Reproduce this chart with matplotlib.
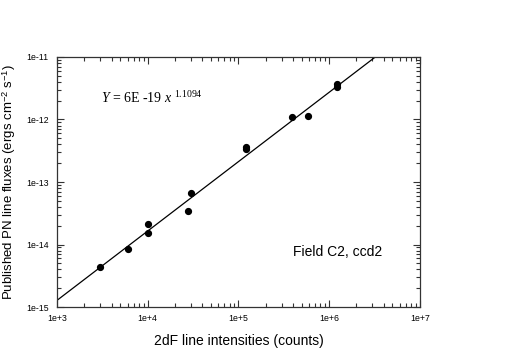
import matplotlib.pyplot as plt
import numpy as np
from matplotlib.ticker import LogLocator, NullFormatter, FixedLocator

# measured points (2dF counts vs published flux)
counts = [2980, 6100, 10000, 10000, 28000, 30200, 121000, 122000,
          392000, 587000, 1210000, 1220000]
flux = [4.4e-15, 8.5e-15, 2.15e-14, 1.55e-14, 3.5e-14, 6.7e-14, 3.35e-13, 3.6e-13,
        1.08e-12, 1.12e-12, 3.3e-12, 3.65e-12]

# power-law fit Y = a x^b
fit_a = 6e-19
fit_b = 1.1094

x_ticks = [1e3, 1e4, 1e5, 1e6, 1e7]
x_ticklabels = ['1e+3', '1e+4', '1e+5', '1e+6', '1e+7']
y_ticks = [1e-15, 1e-14, 1e-13, 1e-12, 1e-11]
y_ticklabels = ['1e-15', '1e-14', '1e-13', '1e-12', '1e-11']

plt.rcParams['font.family'] = ['Liberation Sans', 'DejaVu Sans']
plt.rcParams['mathtext.fontset'] = 'custom'
plt.rcParams['mathtext.rm'] = 'Liberation Sans'
plt.rcParams['mathtext.it'] = 'Liberation Serif:italic'
plt.rcParams['mathtext.sf'] = 'Liberation Serif'

fig = plt.figure(figsize=(5.07, 3.49), dpi=100)
ax = fig.add_axes([0.1124, 0.1203, 0.7156, 0.7164])

xf = np.logspace(3, 7, 200)
ax.plot(xf, fit_a * xf ** fit_b, color='black', lw=0.9)
ax.plot(counts, flux, 'o', color='black', ms=4.2, mec='black')

ax.set_xscale('log')
ax.set_yscale('log')
ax.set_xlim(1e3, 1e7)
ax.set_ylim(1e-15, 1e-11)

ax.xaxis.set_major_locator(FixedLocator(x_ticks))
ax.yaxis.set_major_locator(FixedLocator(y_ticks))
ax.set_xticklabels(x_ticklabels)
ax.set_yticklabels(y_ticklabels)
ax.xaxis.set_minor_locator(LogLocator(base=10, subs=np.arange(2, 10), numticks=20))
ax.yaxis.set_minor_locator(LogLocator(base=10, subs=np.arange(2, 10), numticks=20))
ax.xaxis.set_minor_formatter(NullFormatter())
ax.yaxis.set_minor_formatter(NullFormatter())

ax.tick_params(which='both', direction='in', top=True, right=True,
               labelsize=6.3, width=0.8, color='#333333')
ax.tick_params(which='major', length=5)
ax.tick_params(axis='y', which='major', pad=6)
ax.tick_params(axis='x', which='major', pad=5)
ax.tick_params(which='minor', length=3)
for s in ax.spines.values():
    s.set_linewidth(0.9)
    s.set_color('#333333')

ax.set_xlabel('2dF line intensities (counts)', fontsize=10, labelpad=8)
ax.set_ylabel('Published PN line fluxes (ergs cm$^{-2}$ s$^{-1}$)', fontsize=9.5, labelpad=6)

ax.text(0.12, 0.835, '$\\mathit{Y}$ = 6E -19 $\\mathit{x}$ $^{\\mathsf{1.1094}}$', transform=ax.transAxes,
        fontsize=10, family=['Liberation Serif', 'DejaVu Serif'], va='center', ha='left')
ax.text(0.65, 0.22, 'Field C2, ccd2', transform=ax.transAxes, fontsize=10,
        va='center', ha='left')

fig.savefig('out.png', dpi=100)
